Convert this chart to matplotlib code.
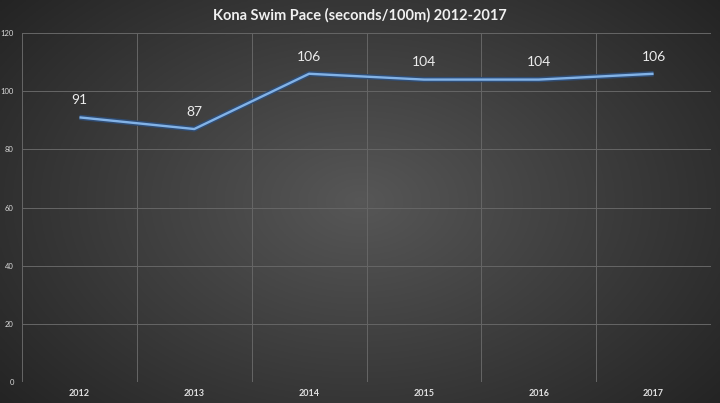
import numpy as np
import matplotlib
matplotlib.use("Agg")
import matplotlib.pyplot as plt
import matplotlib.patheffects as pe

years = ["2012", "2013", "2014", "2015", "2016", "2017"]
pace = [91, 87, 106, 104, 104, 106]
y_ticks = [0, 20, 40, 60, 80, 100, 120]

plt.rcParams['font.family'] = ['Lato', 'DejaVu Sans']

fig = plt.figure(figsize=(7.2, 4.03), dpi=100)

# radial background gradient
bg = fig.add_axes([0, 0, 1, 1], zorder=0)
xx, yy = np.meshgrid(np.linspace(-1, 1, 400), np.linspace(-1, 1, 224))
r = np.sqrt((xx * 0.9) ** 2 + (yy * 0.75) ** 2)
r = np.clip(r, 0, 1.2)
shade = 0.34 - 0.17 * r
bg.imshow(np.dstack([shade, shade, shade]), aspect='auto', extent=[0, 1, 0, 1])
bg.axis('off')

ax = fig.add_axes([0.0306, 0.052, 0.9569, 0.866], zorder=1)
ax.patch.set_alpha(0)
x = np.arange(len(years))
ax.plot(x, pace, color='#82b2e6', lw=1.7, solid_capstyle='butt', zorder=3,
        path_effects=[pe.Stroke(linewidth=3.8, foreground='#2f4d75'), pe.Normal()])
for xi, v in zip(x, pace):
    ax.annotate(str(v), (xi, v), xytext=(0, 8), textcoords='offset points',
                ha='center', va='bottom', color='#ececec', fontsize=10)

ax.set_xlim(-0.5, len(years) - 0.5)
ax.set_ylim(0, 120)
ax.set_yticks(y_ticks)
ax.set_yticklabels([str(t) for t in y_ticks], color='#dadada', fontsize=5.5)
ax.set_xticks(x)
ax.set_xticklabels(years, color='#e0e0e0', fontsize=6.5, fontweight='bold')
ax.set_xticks(np.arange(-0.5, len(years), 1), minor=True)
ax.tick_params(which='both', length=0)
ax.tick_params(axis='y', pad=6)
ax.tick_params(axis='x', pad=5)
ax.grid(axis='y', which='major', color='#666666', lw=0.7)
ax.grid(axis='x', which='minor', color='#666666', lw=0.7)
ax.grid(axis='x', which='major', visible=False)
for s in ax.spines.values():
    s.set_visible(False)

fig.text(0.5, 0.962, "Kona Swim Pace (seconds/100m) 2012-2017", ha='center', va='center',
         color='#f0f0f0', fontsize=10.5, fontweight='bold')

fig.savefig("out.png", dpi=100)
